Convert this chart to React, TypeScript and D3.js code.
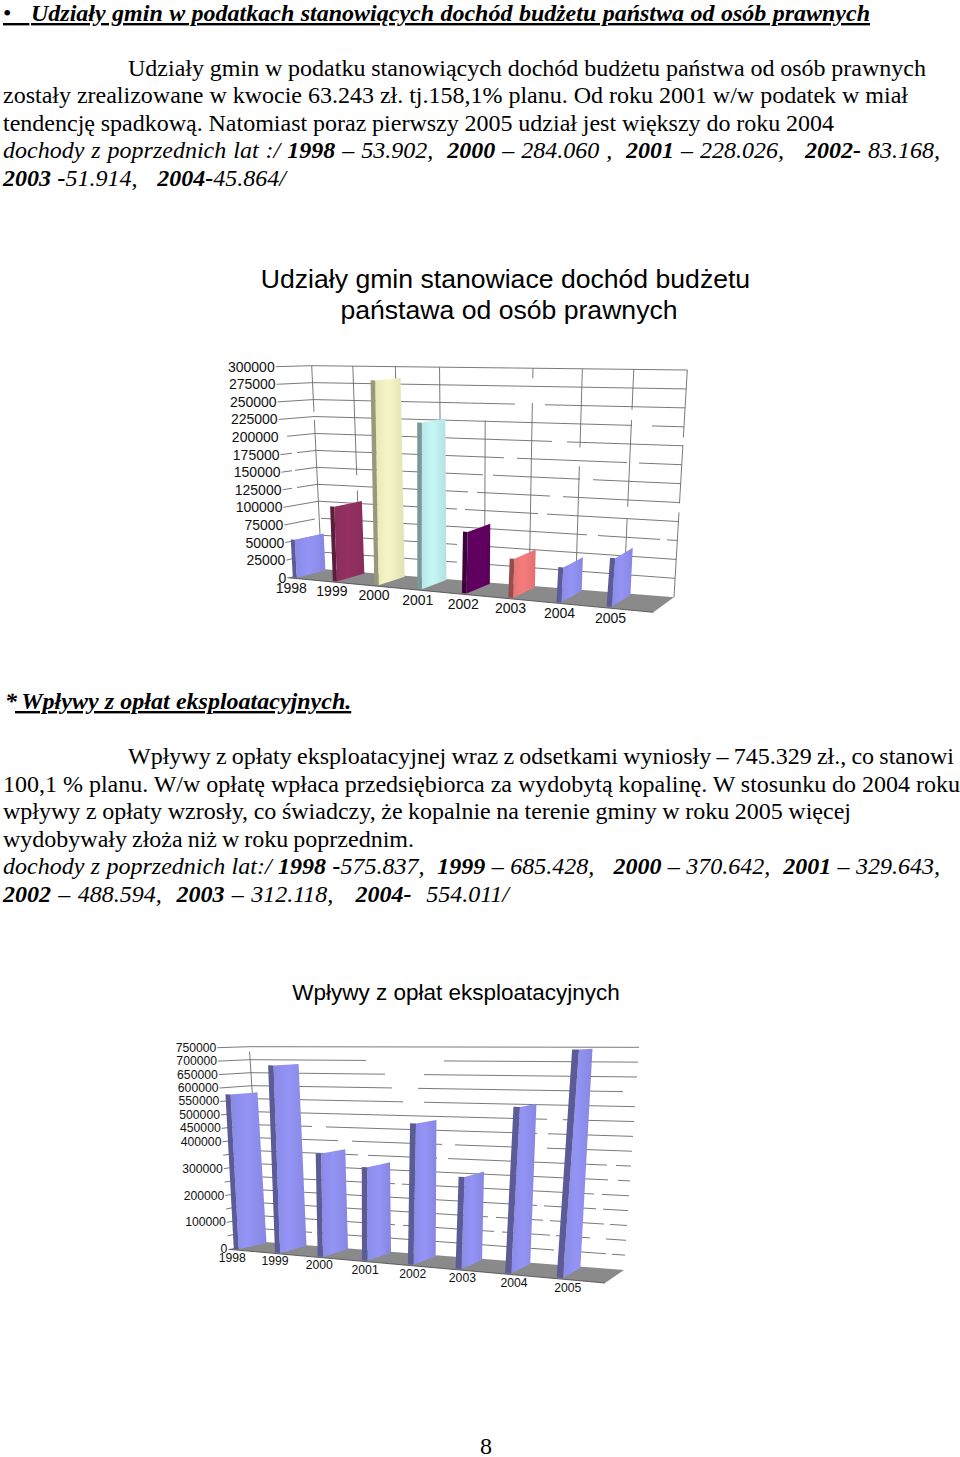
import { useEffect, useRef } from "react";
import * as d3 from "d3";

const years = ["1998", "1999", "2000", "2001", "2002", "2003", "2004", "2005"];
const podatekValues = [53902, 105000, 284060, 228026, 83168, 51914, 45864, 63243];
const podatekTicks = d3.range(0, 300001, 25000);
const podatekLabels = podatekTicks;
const oplatyValues = [575837, 685428, 370642, 329643, 488594, 312118, 554011, 745329];
const oplatyTicks = d3.range(0, 750001, 50000);
const oplatyLabels = [0, 100000, 200000, 300000, 400000, 450000, 500000, 550000, 600000, 650000, 700000, 750000];

const excelColors = ["#9999ff", "#993366", "#ffffcc", "#ccffff", "#660066", "#ff8080", "#9999ff", "#9999ff"];
const blueOnly = years.map(() => "#9999ff");

type Pt = [number, number];
type Run = [string, string?]; // text, style: i, b (bold italic)
type Line = { x: number; y: number; end?: number; runs: Run[]; underline?: boolean };

const textLines: Line[] = [
    { x: 3, y: 21, runs: [["•\u00a0\u00a0\u00a0", "u"]] },
    { x: 31, y: 21, end: 870, underline: true, runs: [["Udziały gmin w podatkach stanowiących dochód budżetu państwa od osób prawnych", "b"]] },
    { x: 128, y: 76, end: 926, runs: [["Udziały gmin w podatku stanowiących dochód budżetu państwa od osób prawnych"]] },
    { x: 3, y: 103, end: 908, runs: [["zostały zrealizowane w kwocie 63.243 zł. tj.158,1% planu. Od roku 2001 w/w podatek w miał"]] },
    { x: 3, y: 131, end: 834, runs: [["tendencję spadkową. Natomiast poraz pierwszy 2005 udział jest większy do roku 2004"]] },
    { x: 3, y: 158, end: 940, runs: [["dochody z poprzednich lat :/ ", "i"], ["1998", "b"], [" – 53.902,  ", "i"], ["2000", "b"], [" – 284.060 ,  ", "i"], ["2001", "b"], [" – 228.026,   ", "i"], ["2002-", "b"], [" 83.168,", "i"]] },
    { x: 3, y: 186, end: 286, runs: [["2003 -", "b"], ["51.914,   ", "i"], ["2004-", "b"], ["45.864/", "i"]] },
    { x: 5, y: 709, runs: [["*", "b"]] },
    { x: 15, y: 709, end: 351, underline: true, runs: [["\u00a0Wpływy z opłat eksploatacyjnych.", "b"]] },
    { x: 128, y: 764, end: 954, runs: [["Wpływy z opłaty eksploatacyjnej wraz z odsetkami wyniosły – 745.329 zł., co stanowi"]] },
    { x: 3, y: 792, end: 960, runs: [["100,1 % planu. W/w opłatę wpłaca przedsiębiorca za wydobytą kopalinę. W stosunku do 2004 roku"]] },
    { x: 3, y: 819, end: 851, runs: [["wpływy z opłaty wzrosły, co świadczy, że kopalnie na terenie gminy w roku 2005 więcej"]] },
    { x: 3, y: 847, end: 414, runs: [["wydobywały złoża niż w roku poprzednim."]] },
    { x: 3, y: 874, end: 940, runs: [["dochody z poprzednich lat:/ ", "i"], ["1998 -", "b"], ["575.837,  ", "i"], ["1999", "b"], [" – 685.428,   ", "i"], ["2000", "b"], [" – 370.642,  ", "i"], ["2001", "b"], [" – 329.643,", "i"]] },
    { x: 3, y: 902, end: 509, runs: [["2002", "b"], [" – 488.594,  ", "i"], ["2003", "b"], [" – 312.118,   ", "i"], ["2004-", "b"], ["  554.011/", "i"]] },
    { x: 480, y: 1454, runs: [["8"]] },
];

// the scan has knocked holes in the grid: tick value and the page x span of each hole
const podatekGridBreaks: [number, number, number][] = [
    [250000, 515, 545], [225000, 632, 652], [200000, 278, 287], [200000, 552, 567],
    [175000, 292, 297], [175000, 504, 517], [175000, 627, 639], [150000, 292, 295],
    [150000, 483, 493], [150000, 580, 593], [125000, 292, 297], [125000, 468, 477],
    [125000, 550, 563], [100000, 457, 465], [100000, 538, 547], [75000, 315, 321],
    [75000, 587, 598], [75000, 660, 667], [50000, 457, 463], [25000, 457, 463],
];
const oplatyGridBreaks: [number, number, number][] = [
    [700000, 366, 444], [650000, 385, 424], [600000, 392, 418], [600000, 623, 640],
    [550000, 403, 424], [500000, 547, 563], [450000, 312, 326], [450000, 537, 548],
    [400000, 338, 352], [400000, 442, 455], [400000, 533, 547], [350000, 358, 368],
    [350000, 437, 448], [350000, 607, 616], [300000, 303, 317], [300000, 608, 618],
    [250000, 395, 402], [250000, 594, 602], [200000, 537, 544], [200000, 596, 603],
    [150000, 488, 496], [150000, 543, 550], [150000, 604, 610], [100000, 395, 403],
    [100000, 494, 502], [100000, 550, 556], [100000, 590, 606], [50000, 312, 317],
    [50000, 554, 561], [50000, 606, 612],
];
// back wall line index, then the value span that is missing from it
const podatekWallBreaks: [number, number, number][] = [
    [0, 232000, 220000], [1, 141000, 119000], [4, 300000, 226000], [5, 286000, 252000],
    [6, 193000, 167500], [7, 246000, 232000], [7, 116000, 100000], [8, 211000, 201000], [8, 124000, 112000],
];
const oplatyWallBreaks: [number, number, number][] = [[0, 750000, 731000]];

const serif = "'Liberation Serif', serif";
const sans = "'Liberation Sans', Arial, sans-serif";
const gridColor = "#6a6a6a";

// bilinear spot inside a quad: front left, front right, back right, back left
function quadAt(q: Pt[], s: number, d: number): Pt {
    const fx = q[0][0] + (q[1][0] - q[0][0]) * s, fy = q[0][1] + (q[1][1] - q[0][1]) * s
    const bx = q[3][0] + (q[2][0] - q[3][0]) * s, by = q[3][1] + (q[2][1] - q[3][1]) * s
    return [fx + (bx - fx) * d, fy + (by - fy) * d]
}

type Chart3d = {
    id: string
    values: number[]
    ticks: number[]
    labels: number[]
    max: number
    colors: string[]
    floor: Pt[]
    top: Pt[]
    fontSize: number
    yearDy: number
    yearU: number
    yearStretch: number
    verticals: number[]
    barStart: number
    barWidth: number
    gridBreaks: [number, number, number][]
    wallBreaks: [number, number, number][]
}

function drawChart(svg: any, c: Chart3d) {
    const n = years.length
    const w = 0.86 // categories get wider towards the right, as in the original's perspective
    const u = (cat: number) => {
        const t = cat / n
        return t * w / (1 + (w - 1) * t)
    }
    const y = d3.scaleLinear().domain([0, c.max]).range([0, 1])
    const project = (cat: number, value: number, depth: number): Pt => {
        const f = quadAt(c.floor, u(cat), depth)
        const t = quadAt(c.top, u(cat), depth)
        const k = y(value)
        return [f[0] + (t[0] - f[0]) * k, f[1] + (t[1] - f[1]) * k]
    }
    const line = d3.line()
    const g = svg.append("g")

    g.append("path")
        .attr("d", line([project(0, 0, 0), project(n, 0, 0), project(n, 0, 1), project(0, 0, 1)]) + "Z")
        .attr("fill", "#8a8a8a")
    g.append("path")
        .attr("d", line([project(0, 0, 0), project(n, 0, 0)]))
        .attr("fill", "none").attr("stroke", "#444").attr("stroke-width", 0.8)

    // one grid line: side wall then back wall, cut where the breaks say
    const gridPath = (t: number) => {
        const a = project(0, t, 0), b = project(0, t, 1), e = project(n, t, 1)
        const at = (x: number): Pt => {
            const [p, q] = x < b[0] ? [a, b] : [b, e]
            return [x, p[1] + (q[1] - p[1]) * (x - p[0]) / (q[0] - p[0])]
        }
        const breaks = c.gridBreaks.filter(r => r[0] === t).sort((r, s) => r[1] - s[1])
        let from = a[0], d = ""
        const stretch = (x0: number, x1: number) => {
            const pts = x0 < b[0] && x1 > b[0] ? [at(x0), b, at(x1)] : [at(x0), at(x1)]
            if (x1 > x0) d += line(pts)
        }
        breaks.forEach(r => {
            stretch(from, r[1])
            from = r[2]
        })
        stretch(from, e[0])
        return d
    }
    g.selectAll("path.grid")
        .data(c.ticks.filter(t => t > 0))
        .join("path")
        .attr("class", "grid")
        .attr("d", gridPath)
        .attr("fill", "none").attr("stroke", gridColor).attr("stroke-width", 0.9)
    const wallPath = (i: number) => {
        const breaks = c.wallBreaks.filter(r => r[0] === i).sort((r, s) => s[1] - r[1])
        let from = c.max, d = ""
        breaks.forEach(r => {
            if (from > r[1]) d += line([project(i, from, 1), project(i, r[1], 1)])
            from = r[2]
        })
        return d + line([project(i, from, 1), project(i, 0, 1)])
    }
    g.selectAll("path.vert")
        .data(c.verticals)
        .join("path")
        .attr("class", "vert")
        .attr("d", wallPath)
        .attr("fill", "none").attr("stroke", gridColor).attr("stroke-width", 0.9)

    const defs = g.append("defs")
    c.colors.forEach((col, i) => {
        const base = d3.color(col) as any
        const grad = defs.append("linearGradient").attr("id", c.id + "g" + i)
        grad.append("stop").attr("offset", "0%").attr("stop-color", base.darker(0.28).formatHex())
        grad.append("stop").attr("offset", "45%").attr("stop-color", base.darker(0.1).formatHex())
        grad.append("stop").attr("offset", "100%").attr("stop-color", base.darker(0.35).formatHex())
    })

    const bars = g.selectAll("g.bar").data(c.values).join("g").attr("class", "bar")
    const u0 = (i: number) => i + c.barStart
    const u1 = (i: number) => i + c.barStart + c.barWidth
    bars.append("path")
        .attr("d", (v: number, i: number) => line([project(u1(i), 0, 0.08), project(u1(i), 0, 0.92), project(u1(i), v, 0.92), project(u1(i), v, 0.08)]) + "Z")
        .attr("fill", (v: number, i: number) => `url(#${c.id}g${i})`)
    bars.append("path")
        .attr("d", (v: number, i: number) => line([project(u0(i), 0, 0.08), project(u1(i), 0, 0.08), project(u1(i), v, 0.08), project(u0(i), v, 0.08)]) + "Z")
        .attr("fill", (v: number, i: number) => (d3.color(c.colors[i]) as any).darker(1.45).formatHex())

    g.selectAll("text.ytick")
        .data(c.labels)
        .join("text")
        .attr("class", "ytick")
        .attr("x", (t: number) => project(0, t, 0)[0] - 1)
        .attr("y", (t: number) => project(0, t, 0)[1])
        .attr("text-anchor", "end")
        .attr("dominant-baseline", "central")
        .attr("font-family", sans)
        .attr("font-size", c.fontSize)
        .attr("fill", "#111")
        .text((t: number) => String(t))
    const yearPos = (i: number) => project(i * c.yearStretch + c.yearU, 0, 0)
    g.selectAll("text.year")
        .data(years)
        .join("text")
        .attr("class", "year")
        .attr("x", (t: string, i: number) => yearPos(i)[0])
        .attr("y", (t: string, i: number) => yearPos(i)[1] + c.yearDy)
        .attr("text-anchor", "middle")
        .attr("dominant-baseline", "central")
        .attr("font-family", sans)
        .attr("font-size", c.fontSize)
        .attr("fill", "#111")
        .text((t: string) => t)
}

function drawText(svg: any) {
    const g = svg.append("g").attr("font-family", serif).attr("font-size", 24).attr("fill", "#000")
    textLines.forEach(l => {
        const t = g.append("text").attr("x", l.x).attr("y", l.y).style("white-space", "pre")
        if (l.underline) t.attr("text-decoration", "underline")
        l.runs.forEach(r => {
            const s = t.append("tspan").text(r[0])
            if (r[1] === "i") s.attr("font-style", "italic")
            if (r[1] === "b") s.attr("font-style", "italic").attr("font-weight", "bold")
            if (r[1] === "u") s.attr("text-decoration", "underline")
        })
        if (l.end) {
            // the page is justified: stretch the word gaps until the line ends where it should
            const spaces = l.runs.map(r => r[0]).join("").split(" ").length - 1
            const len = t.node().getComputedTextLength()
            t.attr("word-spacing", (l.end - l.x - len) / spaces)
        }
    })
    const heading = svg.append("g").attr("font-family", sans).attr("text-anchor", "middle").attr("fill", "#000")
    heading.append("text").attr("x", 505.5).attr("y", 288).attr("font-size", 26.6).text("Udziały gmin stanowiace dochód budżetu")
    heading.append("text").attr("x", 509).attr("y", 319).attr("font-size", 26.6).text("państawa od osób prawnych")
    heading.append("text").attr("x", 456).attr("y", 1000).attr("font-size", 22.5).text("Wpływy z opłat eksploatacyjnych")
}

export default function App() {
    const svgRef = useRef<SVGSVGElement>(null)
    useEffect(() => {
        const svg = d3.select(svgRef.current)
        svg.selectAll("*").remove()
        drawText(svg)
        drawChart(svg, {
            id: "pod",
            values: podatekValues,
            ticks: podatekTicks,
            labels: podatekLabels,
            max: 300000,
            colors: excelColors,
            floor: [[287.3, 577.7], [653.3, 612.3], [674, 597.3], [321.7, 569]],
            top: [[275.7, 366.7], [675, 376.7], [687.3, 370], [311.7, 365.7]],
            fontSize: 14,
            yearDy: 9.5,
            yearU: 0.1,
            yearStretch: 1.012,
            verticals: d3.range(0, years.length + 1),
            barStart: 0.07,
            barWidth: 0.1,
            gridBreaks: podatekGridBreaks,
            wallBreaks: podatekWallBreaks,
        })
        drawChart(svg, {
            id: "opl",
            values: oplatyValues,
            ticks: oplatyTicks,
            labels: oplatyLabels,
            max: 750000,
            colors: blueOnly,
            floor: [[228.3, 1249.3], [605, 1283], [624, 1270], [261.7, 1241.7]],
            top: [[217.3, 1047.7], [625, 1048.3], [639, 1047.3], [249.3, 1046.7]],
            fontSize: 12.2,
            yearDy: 8,
            yearU: 0.1,
            yearStretch: 1.03,
            verticals: [0],
            barStart: 0.07,
            barWidth: 0.12,
            gridBreaks: oplatyGridBreaks,
            wallBreaks: oplatyWallBreaks,
        })
    }, [])
    return <svg ref={svgRef} width={960} height={1457} style={{ position: "absolute", left: 0, top: 0, display: "block" }} />
}
